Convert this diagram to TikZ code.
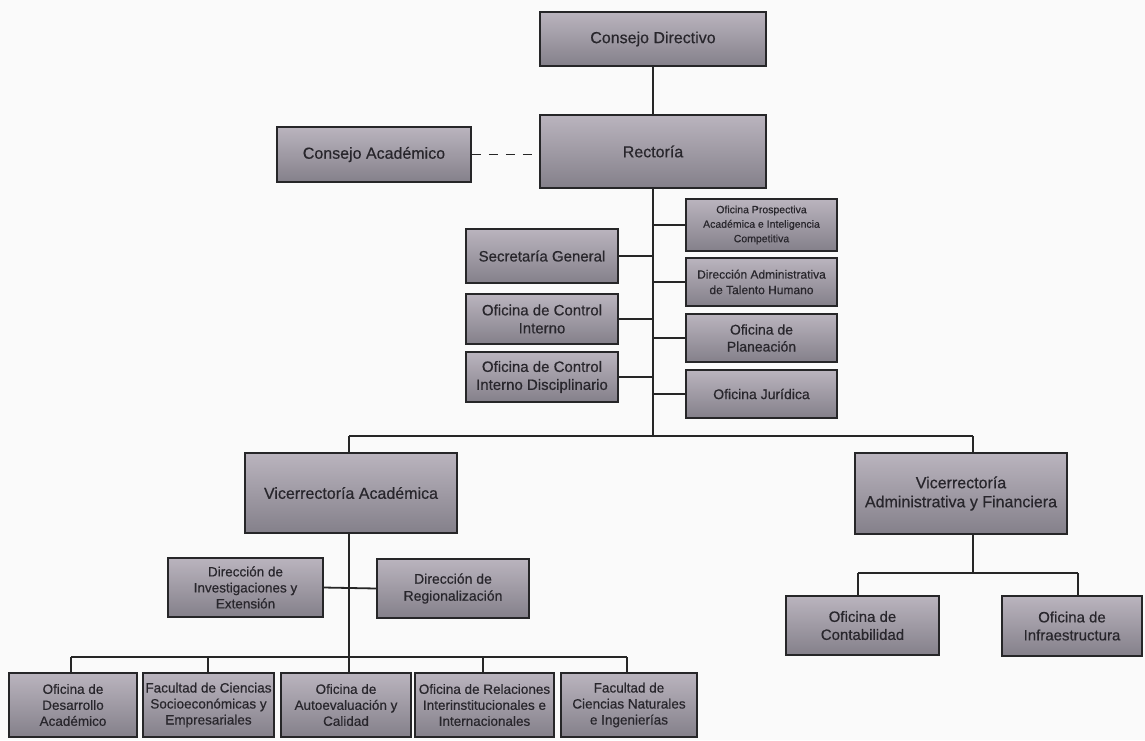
\documentclass[tikz,border=0pt]{standalone}
\usepackage{fontspec}
\setmainfont{Liberation Sans}[FakeBold=0.5]
\definecolor{paper}{RGB}{250,250,250}
\definecolor{boxline}{RGB}{38,38,40}
\definecolor{boxtop}{RGB}{186,180,190}
\definecolor{boxmid}{RGB}{194,183,202}
\definecolor{boxbot}{RGB}{132,128,138}
\definecolor{ink}{RGB}{40,38,44}
\tikzset{
  orgbox/.style={rectangle, draw=boxline, line width=1.6pt,
    top color=boxtop, middle color=boxmid, bottom color=boxbot,
    text=ink, align=center, inner sep=1pt},
  conn/.style={draw=black!85, line width=1.8pt},
  dashconn/.style={draw=black!85, line width=1.8pt, dash pattern=on 9pt off 8pt},
  fA/.style={font=\fontsize{16}{19}\selectfont},
  fB/.style={font=\fontsize{15}{18}\selectfont},
  fC/.style={font=\fontsize{14}{17}\selectfont},
  fD/.style={font=\fontsize{13.5}{16}\selectfont},
  fE/.style={font=\fontsize{12}{15.5}\selectfont},
  fF/.style={font=\fontsize{10.5}{14.5}\selectfont}
}
\begin{document}
\begin{tikzpicture}[x=1pt,y=-1pt]
\useasboundingbox (0,0) rectangle (1145,740);
\fill[paper] (0,0) rectangle (1145,740);

% top of the hierarchy
\node[orgbox, fA, minimum width=226pt, minimum height=54pt] (cd) at (653,39) {Consejo Directivo};
\node[orgbox, fA, minimum width=226pt, minimum height=73pt] (rec) at (653,151.5) {Rectoría};
\node[orgbox, fA, minimum width=194pt, minimum height=55pt] (ca) at (374,154.5) {Consejo Académico};

% staff offices, left side
\node[orgbox, fB, minimum width=152pt, minimum height=54pt] (sg) at (542,256) {Secretaría General};
\node[orgbox, fB, minimum width=152pt, minimum height=50pt] (oci) at (542,319) {Oficina de Control\\Interno};
\node[orgbox, fB, minimum width=152pt, minimum height=50pt] (ocid) at (542,377) {Oficina de Control\\Interno Disciplinario};

% staff offices, right side
\node[orgbox, fF, minimum width=151pt, minimum height=52pt] (opa) at (761.5,225) {Oficina Prospectiva\\Académica e Inteligencia\\Competitiva};
\node[orgbox, fE, minimum width=151pt, minimum height=48pt] (dath) at (761.5,282) {Dirección Administrativa\\de Talento Humano};
\node[orgbox, fC, minimum width=151pt, minimum height=48pt] (opl) at (761.5,338) {Oficina de\\Planeación};
\node[orgbox, fC, minimum width=151pt, minimum height=48pt] (oj) at (761.5,394) {Oficina Jurídica};

% vice-rectorates
\node[orgbox, fA, minimum width=212pt, minimum height=80pt] (va) at (351,493) {Vicerrectoría Académica};
\node[orgbox, fA, minimum width=212pt, minimum height=81pt] (vaf) at (961,493.5) {Vicerrectoría\\Administrativa y Financiera};

% academic branch
\node[orgbox, fD, minimum width=155pt, minimum height=59pt] (die) at (245.5,587.5) {Dirección de\\Investigaciones y\\Extensión};
\node[orgbox, fC, minimum width=152pt, minimum height=59pt] (dr) at (453,588.5) {Dirección de\\Regionalización};

\node[orgbox, fD, minimum width=128pt, minimum height=64pt] (oda) at (73,705) {Oficina de\\Desarrollo\\Académico};
\node[orgbox, fD, minimum width=131pt, minimum height=64pt] (fcse) at (208.5,705) {Facultad de Ciencias\\Socioeconómicas y\\Empresariales};
\node[orgbox, fD, minimum width=130pt, minimum height=64pt] (oac) at (346,705) {Oficina de\\Autoevaluación y\\Calidad};
\node[orgbox, fD, minimum width=139pt, minimum height=64pt] (ori) at (484.5,705) {Oficina de Relaciones\\Interinstitucionales e\\Internacionales};
\node[orgbox, fD, minimum width=136pt, minimum height=64pt] (fcni) at (629,705) {Facultad de\\Ciencias Naturales\\e Ingenierías};

% administrative branch
\node[orgbox, fB, minimum width=153pt, minimum height=59pt] (oc) at (862.5,625.5) {Oficina de\\Contabilidad};
\node[orgbox, fB, minimum width=140pt, minimum height=60pt] (oi) at (1072,626) {Oficina de\\Infraestructura};

% junction points of the connector tree
\coordinate (trunk) at (653,436);
\coordinate (busL) at (349,436);
\coordinate (busR) at (973,436);
\coordinate (low1) at (71,657);
\coordinate (low2) at (208,657);
\coordinate (low3) at (349,657);
\coordinate (low4) at (483,657);
\coordinate (low5) at (627,657);
\coordinate (fin) at (973,573);
\coordinate (finL) at (858,573);
\coordinate (finR) at (1078,573);

% connectors
\draw[conn] (cd.south) -- (rec.north);
\draw[dashconn] (ca.east) -- (ca.east -| rec.west);
\draw[conn] (rec.south) -- (trunk);
\foreach \n in {sg,oci,ocid}{\draw[conn] (\n.east) -- (\n.east -| trunk);}
\foreach \n in {opa,dath,opl,oj}{\draw[conn] (\n.west) -- (\n.west -| trunk);}
\draw[conn] (busL) -- (busR);
\draw[conn] (busL) -- (busL |- va.north);
\draw[conn] (busR) -- (busR |- vaf.north);

\draw[conn] (busL |- va.south) -- (busL |- oac.north);
\draw[conn] (die.east) -- (dr.west);
\draw[conn] (low1) -- (low5);
\draw[conn] (low1) -- (low1 |- oda.north);
\draw[conn] (low2) -- (low2 |- fcse.north);
\draw[conn] (low4) -- (low4 |- ori.north);
\draw[conn] (low5) -- (low5 |- fcni.north);

\draw[conn] (fin |- vaf.south) -- (fin);
\draw[conn] (finL) -- (finR);
\draw[conn] (finL) -- (finL |- oc.north);
\draw[conn] (finR) -- (finR |- oi.north);
\end{tikzpicture}
\end{document}
